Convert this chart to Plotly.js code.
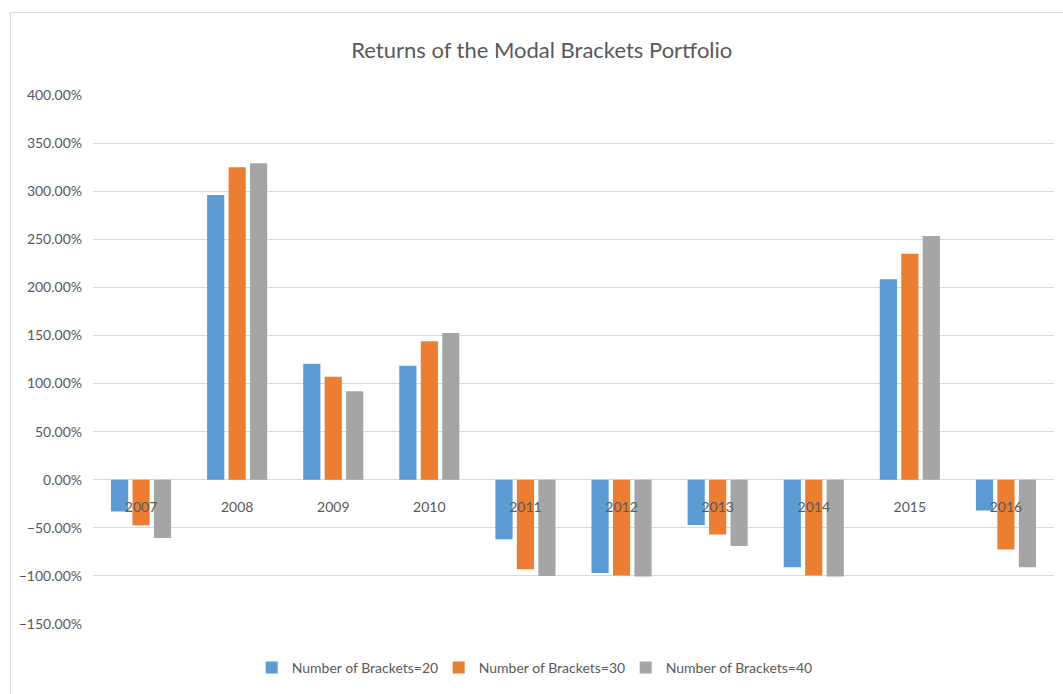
<!DOCTYPE html>
<html>
<head>
<meta charset="utf-8">
<script src="https://cdn.plot.ly/plotly-3.0.1.min.js"></script>
<style>
  html, body { margin: 0; padding: 0; background: #ffffff; overflow: hidden; }
  #chart { position: absolute; left: 10px; top: 12px; width: 1053px; height: 682px;
           border-left: 1px solid #d9d9d9; border-top: 1px solid #d9d9d9; box-sizing: border-box; }
</style>
</head>
<body>
<div id="chart"></div>
<script>
// Data (returns as fractions)
const years = ['2007','2008','2009','2010','2011','2012','2013','2014','2015','2016'];
const brackets20 = [-0.33, 2.96, 1.205, 1.185, -0.62, -0.97, -0.47, -0.91, 2.085, -0.32];
const brackets30 = [-0.475, 3.25, 1.07, 1.44, -0.93, -0.995, -0.57, -0.995, 2.35, -0.725];
const brackets40 = [-0.605, 3.29, 0.92, 1.525, -1.0, -1.005, -0.69, -1.005, 2.535, -0.91];
const seriesNames = ['Number of Brackets=20', 'Number of Brackets=30', 'Number of Brackets=40'];
const colors = ['#5b9bd5', '#ed7d31', '#a5a5a5'];

const FONT = 'Lato, "Open Sans", sans-serif';
const TXT = '#595959';

const traces = [brackets20, brackets30, brackets40].map((vals, i) => ({
  type: 'bar',
  name: seriesNames[i],
  x: years,
  y: vals,
  marker: { color: colors[i], line: { width: 0 } },
  hoverinfo: 'x+y'
}));

const yMin = -1.5, yMax = 4.0;

const layout = {
  width: 1051,
  height: 681,
  margin: { l: 82, r: 8, t: 82, b: 70 },
  paper_bgcolor: '#ffffff',
  plot_bgcolor: '#ffffff',
  font: { family: FONT, size: 14, color: TXT },
  title: {
    text: 'Returns of the Modal Brackets Portfolio',
    font: { family: FONT, size: 22, color: TXT },
    xref: 'container', x: 0.505, xanchor: 'center',
    yref: 'container', y: 0.945, yanchor: 'middle'
  },
  barmode: 'group',
  bargap: 0.33,
  bargroupgap: 0.2,
  xaxis: {
    type: 'category',
    anchor: 'free',
    position: (0 - yMin) / (yMax - yMin),
    showline: false,
    showgrid: false,
    zeroline: false,
    ticks: '',
    ticklabelstandoff: 17,
    tickfont: { family: FONT, size: 14, color: TXT }
  },
  yaxis: {
    range: [yMin, yMax],
    dtick: 0.5,
    tick0: 0,
    tickformat: '.2%',
    showgrid: true,
    gridcolor: '#d9d9d9',
    gridwidth: 1,
    zeroline: true,
    zerolinecolor: '#d9d9d9',
    zerolinewidth: 1,
    showline: false,
    ticks: '',
    ticklabelstandoff: 10,
    tickfont: { family: FONT, size: 14, color: TXT }
  },
  showlegend: true,
  legend: {
    orientation: 'h',
    x: 0.457, xanchor: 'center',
    y: -0.083, yanchor: 'middle',
    font: { family: FONT, size: 14, color: TXT },
    traceorder: 'normal',
    itemwidth: 30,
    entrywidth: 142,
    entrywidthmode: 'pixels'
  }
};

Plotly.newPlot('chart', traces, layout, { displayModeBar: false });
</script>
</body>
</html>
